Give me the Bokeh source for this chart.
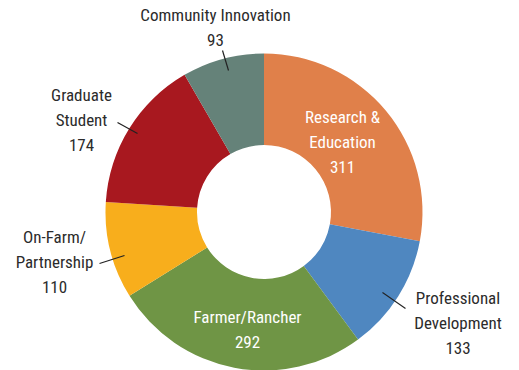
import math
from bokeh.plotting import figure
from bokeh.models import Range1d, ColumnDataSource
from bokeh.core.properties import value
from bokeh.embed import file_html
from bokeh.resources import INLINE

categories = ["Research &\nEducation", "Professional\nDevelopment", "Farmer/Rancher",
              "On-Farm/\nPartnership", "Graduate\nStudent", "Community Innovation"]
counts = [311, 133, 292, 110, 174, 93]
colors = ["#E0804A", "#4F87C0", "#6F9545", "#F8AE1C", "#A8181F", "#658279"]
label_colors = ["white", "#2b2b2b", "white", "#2b2b2b", "#2b2b2b", "#2b2b2b"]

# layout (label anchor positions relative to chart centre, in px)
label_pos = [(78.5, 70.5), (194, -110.5), (-16.5, -117.5), (-209.5, -49.5), (-182.5, 92.5), (-48.5, 185)]
leaders = [None, ((118.5, -80.5), (141.5, -96.5)), None,
           ((-164.5, -51.5), (-139.5, -43.5)), ((-146.5, 89.5), (-126.5, 78.5)),
           ((-41.5, 161.5), (-35.5, 141.5))]

W, H = 519, 370
cx, cy = 263.5, 211.5
total = sum(counts)
starts, ends = [], []
acc = 0
for c in counts:
    starts.append(math.pi / 2 - acc / total * 2 * math.pi)
    acc += c
    ends.append(math.pi / 2 - acc / total * 2 * math.pi)

p = figure(width=W, height=H, output_backend="svg", toolbar_location=None,
           x_range=Range1d(-cx, W - cx), y_range=Range1d(-(H - cy), cy),
           min_border=0)
p.axis.visible = False
p.grid.visible = False
p.outline_line_color = None

src = ColumnDataSource(dict(start=starts, end=ends, color=colors))
p.annular_wedge(x=0, y=0, inner_radius=67, outer_radius=158.5, start_angle="start",
                end_angle="end", direction="clock", fill_color="color", line_color=None,
                source=src)

for lead in leaders:
    if lead:
        (x0, y0), (x1, y1) = lead
        p.line([x0, x1], [y0, y1], line_color="#222222", line_width=1.2)

texts = [f"{c}\n{n}" for c, n in zip(categories, counts)]
tsrc = ColumnDataSource(dict(x=[q[0] for q in label_pos], y=[q[1] for q in label_pos],
                             t=texts, c=label_colors))
p.text(x="x", y="y", text="t", text_color="c", text_align="center",
       text_baseline="middle",
       text_font=value("'Roboto Condensed', 'DejaVu Sans Condensed', Lato, sans-serif"),
       text_font_size="17px", text_line_height=1.25, source=tsrc)

open("out.html", "w").write(file_html(p, INLINE))
